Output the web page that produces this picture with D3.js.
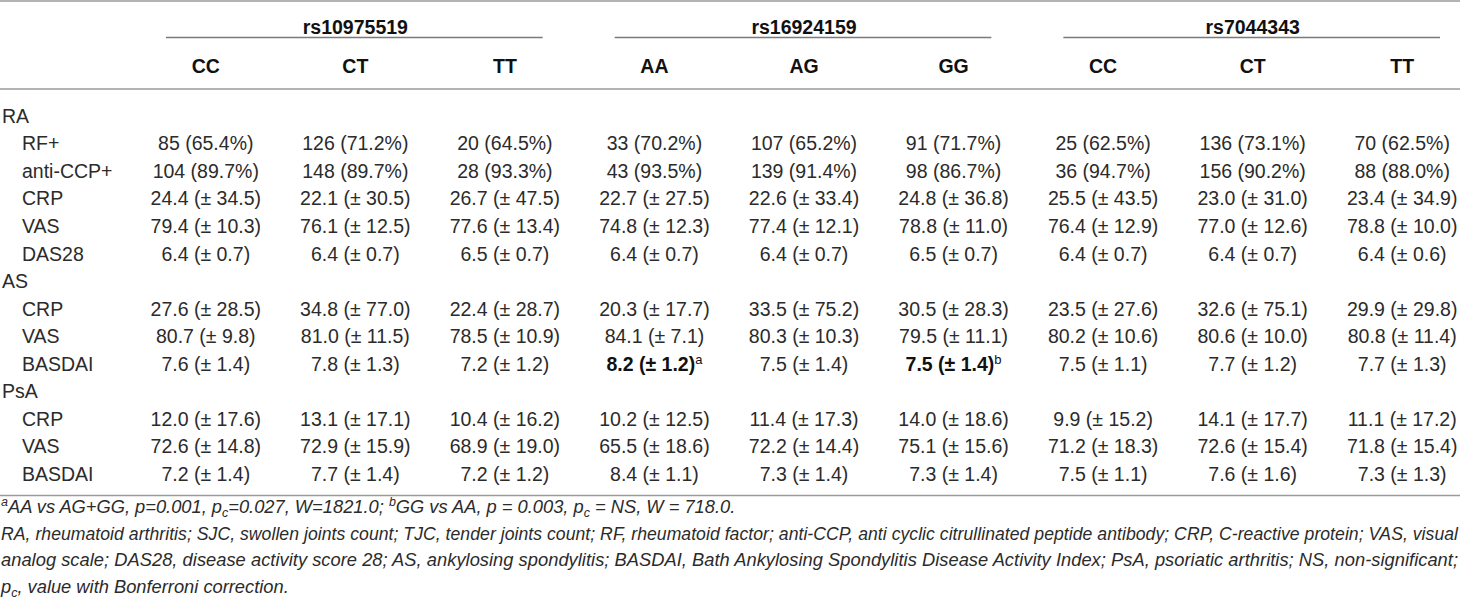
<!DOCTYPE html>
<html>
<head>
<meta charset="utf-8">
<script src="https://cdn.jsdelivr.net/npm/d3@7"></script>
<style>
  body { margin: 0; background: #fff; }
  svg text { font-family: "Liberation Sans", Arial, Helvetica, sans-serif; }
</style>
</head>
<body>
<svg id="chart" width="1460" height="605"></svg>
<script>
const snps = ["rs10975519", "rs16924159", "rs7044343"];
const genotypes = ["CC", "CT", "TT", "AA", "AG", "GG", "CC", "CT", "TT"];

const raMeasures = ["RF+", "anti-CCP+", "CRP", "VAS", "DAS28"];
const raValues = [
  ["85 (65.4%)", "126 (71.2%)", "20 (64.5%)", "33 (70.2%)", "107 (65.2%)", "91 (71.7%)", "25 (62.5%)", "136 (73.1%)", "70 (62.5%)"],
  ["104 (89.7%)", "148 (89.7%)", "28 (93.3%)", "43 (93.5%)", "139 (91.4%)", "98 (86.7%)", "36 (94.7%)", "156 (90.2%)", "88 (88.0%)"],
  ["24.4 (± 34.5)", "22.1 (± 30.5)", "26.7 (± 47.5)", "22.7 (± 27.5)", "22.6 (± 33.4)", "24.8 (± 36.8)", "25.5 (± 43.5)", "23.0 (± 31.0)", "23.4 (± 34.9)"],
  ["79.4 (± 10.3)", "76.1 (± 12.5)", "77.6 (± 13.4)", "74.8 (± 12.3)", "77.4 (± 12.1)", "78.8 (± 11.0)", "76.4 (± 12.9)", "77.0 (± 12.6)", "78.8 (± 10.0)"],
  ["6.4 (± 0.7)", "6.4 (± 0.7)", "6.5 (± 0.7)", "6.4 (± 0.7)", "6.4 (± 0.7)", "6.5 (± 0.7)", "6.4 (± 0.7)", "6.4 (± 0.7)", "6.4 (± 0.6)"]
];

const asMeasures = ["CRP", "VAS", "BASDAI"];
const asValues = [
  ["27.6 (± 28.5)", "34.8 (± 77.0)", "22.4 (± 28.7)", "20.3 (± 17.7)", "33.5 (± 75.2)", "30.5 (± 28.3)", "23.5 (± 27.6)", "32.6 (± 75.1)", "29.9 (± 29.8)"],
  ["80.7 (± 9.8)", "81.0 (± 11.5)", "78.5 (± 10.9)", "84.1 (± 7.1)", "80.3 (± 10.3)", "79.5 (± 11.1)", "80.2 (± 10.6)", "80.6 (± 10.0)", "80.8 (± 11.4)"],
  ["7.6 (± 1.4)", "7.8 (± 1.3)", "7.2 (± 1.2)", "8.2 (± 1.2)", "7.5 (± 1.4)", "7.5 (± 1.4)", "7.5 (± 1.1)", "7.7 (± 1.2)", "7.7 (± 1.3)"]
];

const psaMeasures = ["CRP", "VAS", "BASDAI"];
const psaValues = [
  ["12.0 (± 17.6)", "13.1 (± 17.1)", "10.4 (± 16.2)", "10.2 (± 12.5)", "11.4 (± 17.3)", "14.0 (± 18.6)", "9.9 (± 15.2)", "14.1 (± 17.7)", "11.1 (± 17.2)"],
  ["72.6 (± 14.8)", "72.9 (± 15.9)", "68.9 (± 19.0)", "65.5 (± 18.6)", "72.2 (± 14.4)", "75.1 (± 15.6)", "71.2 (± 18.3)", "72.6 (± 15.4)", "71.8 (± 15.4)"],
  ["7.2 (± 1.4)", "7.7 (± 1.4)", "7.2 (± 1.2)", "8.4 (± 1.1)", "7.3 (± 1.4)", "7.3 (± 1.4)", "7.5 (± 1.1)", "7.6 (± 1.6)", "7.3 (± 1.3)"]
];

// significant cells: [disease, measure, column, footnote mark]
const boldCells = [["AS", "BASDAI", 3, "a"], ["AS", "BASDAI", 5, "b"]];

// footnote segments: [text, "sup" | "sub" | ""]
const footnotes = [
  [["a", "sup"], ["AA vs AG+GG, p=0.001, p", ""], ["c", "sub"], ["=0.027, W=1821.0; ", ""], ["b", "sup"],
   ["GG vs AA, p = 0.003, p", ""], ["c", "sub"], [" = NS, W = 718.0.", ""]],
  [["RA, rheumatoid arthritis; SJC, swollen joints count; TJC, tender joints count; RF, rheumatoid factor; anti-CCP, anti cyclic citrullinated peptide antibody; CRP, C-reactive protein; VAS, visual", ""]],
  [["analog scale; DAS28, disease activity score 28; AS, ankylosing spondylitis; BASDAI, Bath Ankylosing Spondylitis Disease Activity Index; PsA, psoriatic arthritis; NS, non-significant;", ""]],
  [["p", ""], ["c", "sub"], [", value with Bonferroni correction.", ""]]
];
const justified = [false, true, true, false];

// build the row list from the disease blocks
const blocks = [["RA", raMeasures, raValues], ["AS", asMeasures, asValues], ["PsA", psaMeasures, psaValues]];
const rows = [];
blocks.forEach(([disease, measures, values]) => {
  rows.push({ label: disease, head: true });
  measures.forEach((m, i) => rows.push({ label: m, disease: disease, values: values[i] }));
});

const width = 1460;
const fs = 19.5;
const noteFs = 18.3;
const svg = d3.select("#chart");

const x = d3.scaleBand().domain(d3.range(genotypes.length)).range([131, 1477]);
const y = d3.scalePoint().domain(d3.range(rows.length)).range([116, 474]);
const yNote = d3.scalePoint().domain(d3.range(footnotes.length)).range([513, 593]);

const ink = "#2b2b2b";
const rule = "#9a9a9a";

// rules
svg.selectAll(".rule")
  .data([1, 89, 495.5])
  .enter().append("line")
  .attr("class", "rule")
  .attr("x1", 0).attr("x2", width)
  .attr("y1", d => d).attr("y2", d => d)
  .attr("stroke", rule)
  .attr("stroke-width", 1.5);

// snp headers with underline
const snpG = svg.selectAll(".snp")
  .data(snps)
  .enter().append("g")
  .attr("class", "snp");

snpG.append("line")
  .attr("x1", (d, i) => x(i * 3) + 35)
  .attr("x2", (d, i) => Math.min(x(i * 3 + 2) + x.bandwidth() - 37, width))
  .attr("y1", 37.5).attr("y2", 37.5)
  .attr("stroke", "#7a7a7a")
  .attr("stroke-width", 1.4);

snpG.append("text")
  .attr("x", (d, i) => x(i * 3 + 1) + x.bandwidth() / 2)
  .attr("y", 27)
  .attr("dy", "0.35em")
  .attr("text-anchor", "middle")
  .attr("font-size", fs)
  .attr("font-weight", "bold")
  .attr("fill", "#111")
  .text(d => d);

// genotype headers
svg.selectAll(".geno")
  .data(genotypes)
  .enter().append("text")
  .attr("class", "geno")
  .attr("x", (d, i) => x(i) + x.bandwidth() / 2)
  .attr("y", 66)
  .attr("dy", "0.35em")
  .attr("text-anchor", "middle")
  .attr("font-size", fs)
  .attr("font-weight", "bold")
  .attr("fill", "#111")
  .text(d => d);

// body rows
const row = svg.selectAll(".row")
  .data(rows)
  .enter().append("g")
  .attr("class", "row")
  .attr("transform", (d, i) => `translate(0,${y(i)})`);

row.append("text")
  .attr("x", d => d.head ? 2 : 22)
  .attr("dy", "0.35em")
  .attr("font-size", fs)
  .attr("fill", ink)
  .text(d => d.label);

row.filter(d => !d.head).each(function (r) {
  const cells = d3.select(this).selectAll(".cell")
    .data(r.values)
    .enter().append("text")
    .attr("class", "cell")
    .attr("x", (d, i) => x(i) + x.bandwidth() / 2)
    .attr("dy", "0.35em")
    .attr("text-anchor", "middle")
    .attr("font-size", fs)
    .attr("fill", ink);

  cells.each(function (d, i) {
    const mark = boldCells.find(b => b[0] === r.disease && b[1] === r.label && b[2] === i);
    const t = d3.select(this);
    if (mark) {
      t.attr("font-weight", "bold").attr("fill", "#111");
      t.append("tspan").text(d);
      t.append("tspan").attr("font-size", 13).attr("font-weight", "normal").attr("dy", -7).text(mark[3]);
    } else {
      t.text(d);
    }
  });
});

// footnotes
const notes = svg.selectAll(".note")
  .data(footnotes)
  .enter().append("text")
  .attr("class", "note")
  .attr("x", 1)
  .attr("y", (d, i) => yNote(i))
  .attr("dy", "0.35em")
  .attr("font-size", noteFs)
  .attr("font-style", "italic")
  .attr("fill", ink);

notes.each(function (segs) {
  const t = d3.select(this);
  let shift = 0;
  segs.forEach(([txt, kind]) => {
    const target = kind === "sup" ? -7 : kind === "sub" ? 4 : 0;
    t.append("tspan")
      .attr("dy", target - shift)
      .attr("font-size", kind ? 12.5 : null)
      .text(txt);
    shift = target;
  });
});

// justified lines: shrink to fit if needed, then spread to the full width
const lineWidth = width - 3;
notes.filter((d, i) => justified[i]).each(function () {
  const len = this.getComputedTextLength();
  if (len > lineWidth) {
    d3.select(this).attr("font-size", Math.floor(noteFs * lineWidth / len * 10) / 10 - 0.1);
  }
  d3.select(this)
    .attr("textLength", lineWidth)
    .attr("lengthAdjust", "spacing");
});
</script>
</body>
</html>
